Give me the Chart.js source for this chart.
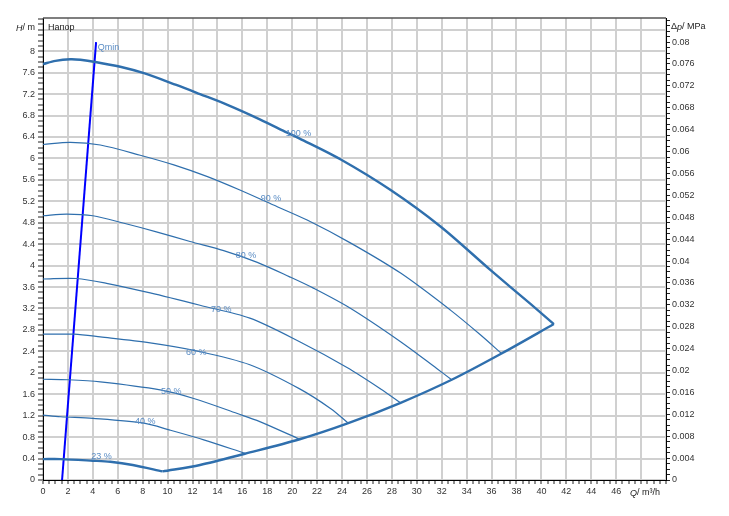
<!DOCTYPE html>
<html>
<head>
<meta charset="utf-8">
<script src="https://cdn.jsdelivr.net/npm/chart.js@4.4.1/dist/chart.umd.min.js"></script>
<style>
  html, body { margin: 0; padding: 0; background: #fff; }
  #wrap { width: 729px; height: 516px; }
</style>
</head>
<body>
<div id="wrap"><canvas id="grafica"></canvas></div>
<script>
// curvas de la bomba (Q en m³/h, H en m)
const q100 = [0, 1, 2.2, 3, 4.2, 6.2, 8.1, 10.7, 12.6, 14.8, 17.4, 19.6, 20.6, 23.9, 27.9, 31.9, 35.9, 39.1, 41.0];
const h100 = [7.76, 7.82, 7.85, 7.84, 7.80, 7.71, 7.59, 7.37, 7.20, 7.00, 6.73, 6.48, 6.37, 5.98, 5.41, 4.73, 3.92, 3.29, 2.91];
const q90 = [0, 2.2, 4.6, 7.8, 10.5, 13.2, 15.8, 18.5, 21.2, 24.7, 28.7, 32.7, 35.1, 36.8];
const h90 = [6.26, 6.30, 6.25, 6.06, 5.88, 5.66, 5.41, 5.13, 4.85, 4.42, 3.86, 3.17, 2.71, 2.36];
const q80 = [0, 1.9, 4.0, 6.5, 9.1, 11.8, 14.5, 17.2, 19.8, 21.7, 24.7, 28.7, 31.6, 32.8];
const h80 = [4.93, 4.96, 4.93, 4.79, 4.63, 4.45, 4.28, 4.06, 3.79, 3.58, 3.20, 2.58, 2.08, 1.87];
const q70 = [0, 2.7, 5.1, 8.6, 12.6, 16.6, 20.6, 24.4, 27.1, 28.7];
const h70 = [3.75, 3.76, 3.67, 3.49, 3.26, 3.02, 2.58, 2.10, 1.70, 1.44];
const q60 = [0, 2.5, 4.6, 8.6, 12.3, 16.6, 20.6, 23.1, 24.5];
const h60 = [2.72, 2.72, 2.67, 2.56, 2.41, 2.15, 1.70, 1.33, 1.06];
const q50 = [0, 2, 4.6, 9.4, 12.1, 15.6, 17.4, 20.6];
const h50 = [1.88, 1.87, 1.83, 1.68, 1.52, 1.24, 1.09, 0.76];
const q40 = [0, 1.4, 4.0, 8.1, 10.2, 12.9, 16.2];
const h40 = [1.21, 1.18, 1.15, 1.06, 0.93, 0.75, 0.50];
const q23 = [0, 1.4, 4.0, 5.4, 7.2, 9.6];
const h23 = [0.39, 0.39, 0.36, 0.34, 0.28, 0.16];
// curva límite (extremo derecho de las curvas)
const qLim = [9.6, 12.6, 16.2, 20.6, 24.5, 28.7, 32.8, 36.8, 41.0];
const hLim = [0.16, 0.28, 0.49, 0.76, 1.06, 1.44, 1.87, 2.36, 2.91];
// línea Qmin
const qMin = [1.53, 4.26];
const hMin = [0, 8.17];

const curveNames = ['100 %', '90 %', '80 %', '70 %', '60 %', '50 %', '40 %', '23 %'];
const labelQ = [20.5, 18.3, 16.3, 14.3, 12.3, 10.3, 8.2, 4.7];
const labelH = [6.47, 5.26, 4.18, 3.19, 2.37, 1.66, 1.10, 0.43];

const azul = '#2f6fad';
const pts = (qs, hs) => qs.map((q, i) => ({x: q, y: hs[i]}));
const curva = (qs, hs, w) => ({
  data: pts(qs, hs), showLine: true, borderColor: azul, borderWidth: w,
  pointRadius: 0, tension: 0.3, fill: false
});

const esMayor = (v, paso) => Math.abs(v / paso - Math.round(v / paso)) < 1e-6;
const fuente = '9px Arial';

const textos = {
  id: 'textos',
  afterDraw(chart) {
    const {ctx, chartArea, scales: {x, y}} = chart;
    ctx.save();
    // borde superior
    ctx.strokeStyle = '#555';
    ctx.lineWidth = 1.5;
    ctx.beginPath();
    ctx.moveTo(chartArea.left, chartArea.top);
    ctx.lineTo(chartArea.right, chartArea.top);
    ctx.stroke();

    ctx.font = fuente;
    ctx.textBaseline = 'middle';
    ctx.textAlign = 'center';
    ctx.fillStyle = '#5a8cc4';
    curveNames.forEach((t, i) => {
      ctx.fillText(t, x.getPixelForValue(labelQ[i]), y.getPixelForValue(labelH[i]));
    });
    ctx.textAlign = 'left';
    ctx.fillText('Qmin', x.getPixelForValue(4.4), y.getPixelForValue(8.07));

    ctx.fillStyle = '#222';
    const ty = chartArea.top + 10;
    ctx.fillText('Напор', chartArea.left + 5, ty);

    // textos con partes en cursiva
    const trozos = (partes, x0, yy) => {
      let xx = x0;
      partes.forEach(([t, it]) => {
        ctx.font = (it ? 'italic ' : '') + fuente;
        ctx.fillText(t, xx, yy);
        xx += ctx.measureText(t).width;
      });
    };
    const ancho = (partes) => partes.reduce((s, [t, it]) => {
      ctx.font = (it ? 'italic ' : '') + fuente;
      return s + ctx.measureText(t).width;
    }, 0);

    const hm = [['H', true], ['/ m', false]];
    trozos(hm, chartArea.left - 8 - ancho(hm), ty);
    const dp = [['Δ', false], ['p', true], ['/ MPa', false]];
    trozos(dp, chartArea.right + 5, ty - 1);
    const qm = [['Q', true], ['/ m³/h', false]];
    trozos(qm, x.getPixelForValue(48) + 4 - ancho(qm) / 2, chartArea.bottom + 13);
    ctx.restore();
  }
};

new Chart(document.getElementById('grafica').getContext('2d'), {
  type: 'scatter',
  data: {
    datasets: [
      curva(q100, h100, 2.4),
      curva(q90, h90, 1.2),
      curva(q80, h80, 1.2),
      curva(q70, h70, 1.2),
      curva(q60, h60, 1.2),
      curva(q50, h50, 1.2),
      curva(q40, h40, 1.2),
      curva(q23, h23, 2.4),
      curva(qLim, hLim, 2.4),
      {data: pts(qMin, hMin), showLine: true, borderColor: '#0000ff', borderWidth: 2, pointRadius: 0}
    ]
  },
  options: {
    responsive: true,
    maintainAspectRatio: false,
    animation: false,
    layout: { padding: { top: 18, right: 0, bottom: 0, left: 0 } },
    plugins: {
      legend: { display: false },
      tooltip: { enabled: false }
    },
    scales: {
      x: {
        type: 'linear', min: 0, max: 50,
        afterFit: s => { s.height = 36; },
        border: { color: '#000', width: 1 },
        grid: {
          color: c => esMayor(c.tick.value, 2) ? '#d0d0d0' : 'rgba(0,0,0,0)',
          lineWidth: 2, tickColor: '#222', tickWidth: 1, tickLength: 4
        },
        ticks: {
          stepSize: 0.5, autoSkip: false, maxRotation: 0, padding: 2,
          color: '#333', font: { family: 'Arial', size: 9 },
          callback: v => (esMayor(v, 2) && v < 47) ? String(v) : ''
        }
      },
      y: {
        type: 'linear', position: 'left', min: 0, max: 8.62,
        afterFit: s => { s.width = 43; },
        border: { color: '#000', width: 1 },
        grid: {
          color: c => esMayor(c.tick.value, 0.4) ? '#d0d0d0' : 'rgba(0,0,0,0)',
          lineWidth: 2, tickColor: '#222', tickWidth: 1, tickLength: 5
        },
        ticks: {
          stepSize: 0.1, autoSkip: false, includeBounds: false, padding: 3,
          color: '#333', font: { family: 'Arial', size: 9 },
          callback: v => (esMayor(v, 0.4) && v < 8.2) ? String(Number(v.toFixed(1))) : ''
        }
      },
      y2: {
        type: 'linear', position: 'right', min: 0, max: 0.0844,
        afterFit: s => { s.width = 63; },
        border: { color: '#000', width: 1 },
        grid: { drawOnChartArea: false, tickColor: '#222', tickWidth: 1, tickLength: 4 },
        ticks: {
          stepSize: 0.001, autoSkip: false, includeBounds: false, padding: 2,
          color: '#333', font: { family: 'Arial', size: 9 },
          callback: v => (esMayor(v, 0.004) && v < 0.082) ? String(Number(v.toFixed(3))) : ''
        }
      }
    }
  },
  plugins: [textos]
});
</script>
</body>
</html>
